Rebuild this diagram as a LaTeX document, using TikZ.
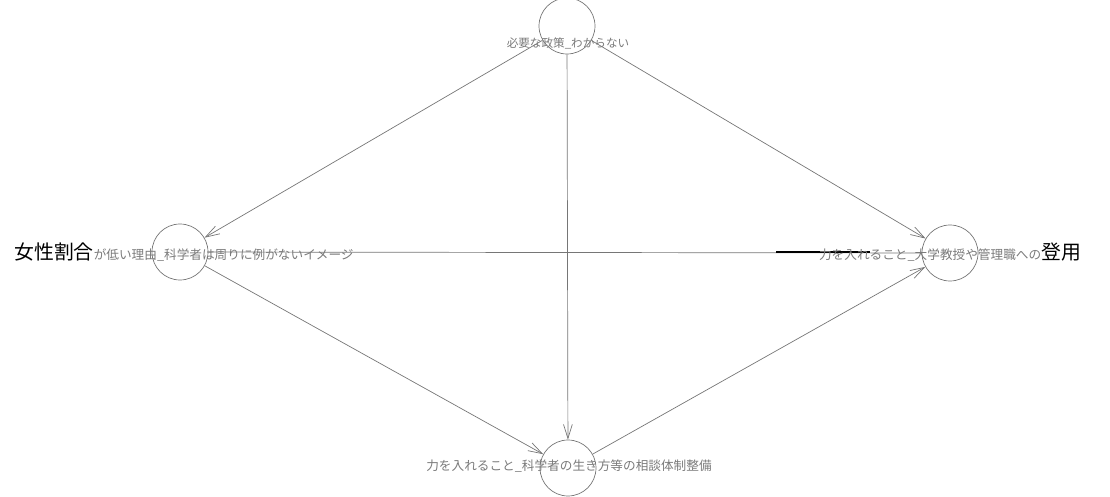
\documentclass[tikz,border=0pt]{standalone}
\usepackage{fontspec}
\setmainfont{Noto Sans CJK JP}
\usetikzlibrary{arrows.meta}
\definecolor{edgegray}{HTML}{767676}
\definecolor{textgray}{HTML}{7A7A7A}
\tikzset{
  vtx/.style={circle, draw=edgegray, minimum size=1.12cm, inner sep=0pt},
  lab/.style={text=textgray, font=\fontsize{7.2pt}{8pt}\selectfont, inner sep=0pt},
  edge/.style={draw=edgegray, line width=0.4pt, -{Straight Barb[length=8pt,width=5pt]}},
}
\begin{document}
\begin{tikzpicture}[x=0.02cm, y=-0.02cm]
  \useasboundingbox (0,0) rectangle (1110,497);
  % circles
  \node[vtx] (top) at (567,26) {};
  \node[vtx] (left) at (180,252) {};
  \node[vtx] (right) at (950,253) {};
  \node[vtx] (bot) at (568,468) {};
  % edges
  \draw[edge] (top) -- (left);
  \draw[edge] (top) -- (right);
  \draw[edge] (top) -- (bot);
  \draw[edge] (left) -- (bot);
  \draw[edge] (bot) -- (right);
  \draw[draw=edgegray, line width=0.4pt] (left) -- (right);
  \coordinate (bs) at (776,252);
  \coordinate (be) at (870,252);
  \draw[black, line width=0.6pt] (bs) -- (be);
  % labels
  \node[lab, font=\fontsize{6.6pt}{8pt}\selectfont] (toplab) at (568,43) {必要な政策\_わからない};
  \node[lab] (leftlab) at (184,252) {{\color{black}\fontsize{11.3pt}{12pt}\selectfont 女性割合}が低い理由\_科学者は周りに例がないイメージ};
  \node[lab] (rightlab) at (950,252) {力を入れること\_大学教授や管理職への{\color{black}\fontsize{11.3pt}{12pt}\selectfont 登用}};
  \node[lab] (botlab) at (569,466) {力を入れること\_科学者の生き方等の相談体制整備};
\end{tikzpicture}
\end{document}
